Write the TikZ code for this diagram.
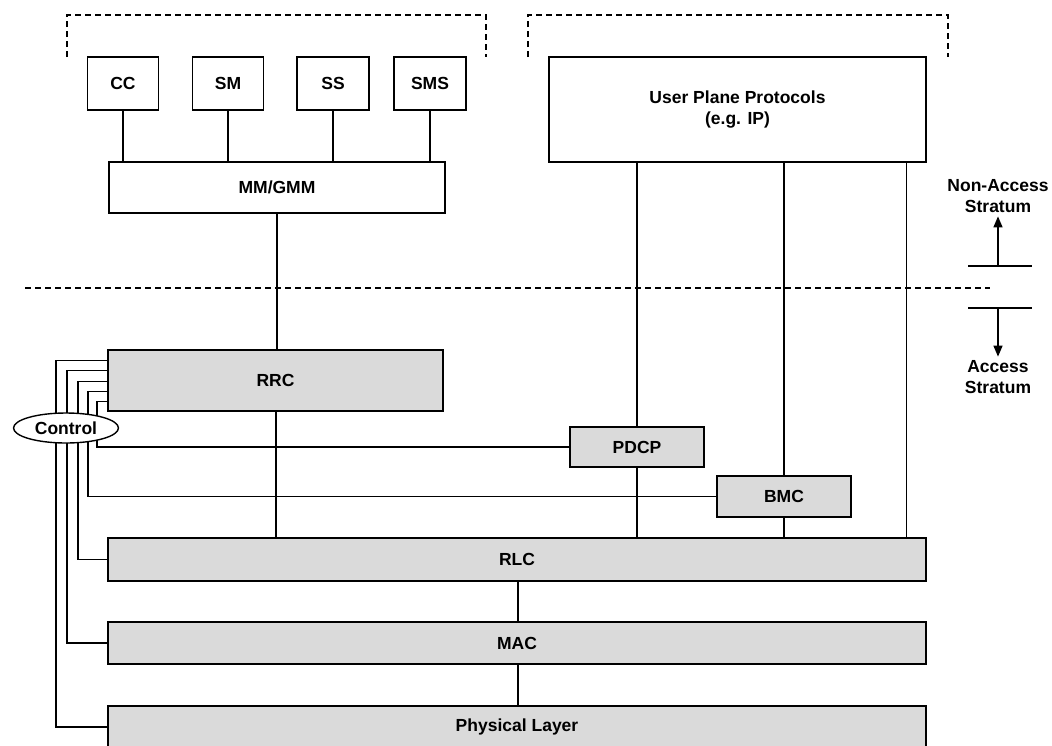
\documentclass[tikz,border=0pt]{standalone}
\usepackage{fontspec}
\setmainfont{Liberation Sans}
\usetikzlibrary{arrows.meta,shapes.geometric}
\definecolor{layergray}{HTML}{DADADA}
\begin{document}
\begin{tikzpicture}[x=1pt,y=-1pt,line width=1.4pt,
  lbl/.style={font=\bfseries\fontsize{17.5}{20.5}\selectfont},
  wbox/.style={lbl,draw,fill=white,inner sep=0pt,align=center},
  gbox/.style={lbl,draw,fill=layergray,inner sep=0pt,align=center},
  dashline/.style={line width=1.3pt,dash pattern=on 6pt off 4pt},
  conn/.style={line width=1.4pt},
  stratarrow/.style={line width=1.4pt,-{Triangle[length=11pt,width=9pt]}}]
\useasboundingbox (0,0) rectangle (1052,745);
\clip (0,0) rectangle (1052,745);
\fill[white] (0,0) rectangle (1052,745);

% top dashed brackets
\draw[dashline] (67,57) -- (67,15) -- (486,15) -- (486,57);
\draw[dashline] (528,57) -- (528,15) -- (948,15) -- (948,57);

% NAS boxes
\node[wbox,minimum width=71,minimum height=53] (cc)  at (123,83.5) {CC};
\node[wbox,minimum width=71,minimum height=53] (sm)  at (228,83.5) {SM};
\node[wbox,minimum width=72,minimum height=53] (ss)  at (333,83.5) {SS};
\node[wbox,minimum width=72,minimum height=53] (sms) at (430,83.5) {SMS};
\node[wbox,minimum width=336,minimum height=51] (mm) at (277,187.5) {MM/GMM};
\node[wbox,minimum width=377,minimum height=105] (up) at (737.5,109.5) {User Plane Protocols\\(e.g. IP)};

% AS boxes
\node[gbox,minimum width=335,minimum height=61] (rrc) at (275.5,380.5) {RRC};
\node[gbox,minimum width=134,minimum height=40] (pdcp) at (637,447) {PDCP};
\node[gbox,minimum width=134,minimum height=41] (bmc) at (784,496.5) {BMC};
\node[gbox,minimum width=818,minimum height=43] (rlc) at (517,559.5) {RLC};
\node[gbox,minimum width=818,minimum height=42] (mac) at (517,643) {MAC};
\node[gbox,minimum width=818,minimum height=42] (phy) at (517,727) {Physical Layer};

% NAS connections
\foreach \n in {cc,sm,ss,sms}{\draw[conn] (\n.south) -- (\n.south |- mm.north);}
\draw[conn] (mm.south) -- (mm.south |- rrc.north);

% user plane connections
\draw[conn] (pdcp.north |- up.south) -- (pdcp.north);
\draw[conn] (pdcp.south) -- (pdcp.south |- rlc.north);
\draw[conn] (bmc.north |- up.south) -- (bmc.north);
\draw[conn] (bmc.south) -- (bmc.south |- rlc.north);
\draw[conn] ([xshift=-20pt]up.south east) -- ([xshift=-20pt]up.south east |- rlc.north);
\draw[conn] ([xshift=0.5pt]rrc.south) -- ([xshift=0.5pt]rrc.south |- rlc.north);
\draw[conn] ([xshift=1pt]rlc.south) -- ([xshift=1pt]mac.north);
\draw[line width=1.1pt] ([xshift=1pt]mac.south) -- ([xshift=1pt]phy.north);

% control lines
\coordinate (c1) at (56,0);
\coordinate (c2) at (67,0);
\coordinate (c3) at (78,0);
\coordinate (c4) at (88,0);
\coordinate (c5) at (97,0);
\draw[conn] ([yshift=-11pt]rrc.north west) -| (c1 |- phy.west) -- (phy.west);
\draw[conn] ([yshift=-21pt]rrc.north west) -| (c2 |- mac.west) -- (mac.west);
\draw[conn] ([yshift=-32pt]rrc.north west) -| (c3 |- rlc.west) -- (rlc.west);
\draw[conn] ([yshift=-42pt]rrc.north west) -| (c4 |- bmc.west) -- (bmc.west);
\draw[conn] ([yshift=-52pt]rrc.north west) -| (c5 |- pdcp.west) -- (pdcp.west);
\node[lbl,draw,fill=white,ellipse,inner sep=0pt,minimum width=105,minimum height=30] (ctrl) at (66,428) {Control};

% stratum boundary
\coordinate (bl) at (25,288);
\coordinate (br) at (990,288);
\draw[dashline] (bl) -- (br);

\node[lbl,align=center] (nas) at (998,196) {Non-Access\\Stratum};
\coordinate (nl) at (968,266);
\coordinate (nr) at (1032,266);
\coordinate (na) at (998,266);
\draw[conn] (nl) -- (nr);
\draw[stratarrow] (na) -- (na |- nas.south);

\node[lbl,align=center] (as) at (998,377) {Access\\Stratum};
\coordinate (al) at (968,308);
\coordinate (ar) at (1032,308);
\coordinate (aa) at (998,308);
\draw[conn] (al) -- (ar);
\draw[stratarrow] (aa) -- (aa |- as.north);
\end{tikzpicture}
\end{document}
